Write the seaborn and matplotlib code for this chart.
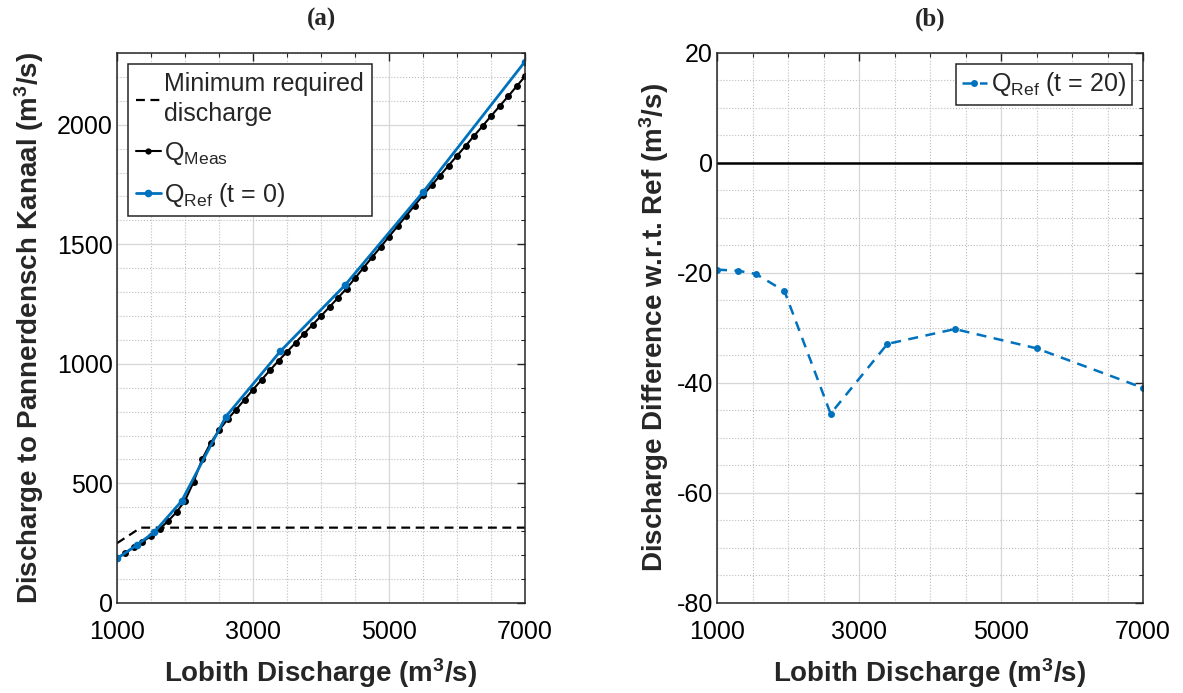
import matplotlib
matplotlib.use("Agg")
import matplotlib.pyplot as plt
from matplotlib.ticker import MultipleLocator
from matplotlib.lines import Line2D
import seaborn as sns

# Lobith discharge where the reference run was evaluated
ref_lobith = [1000, 1300, 1550, 1950, 2600, 3400, 4350, 5500, 7000]
# Discharge to Pannerdensch Kanaal, reference run (t = 0)
ref_pk_t0 = [186, 244, 297, 426, 779, 1052, 1328, 1718, 2264]
# Difference of the t = 20 run w.r.t. the reference
ref_diff_t20 = [-19.4, -19.6, -20.2, -23.3, -45.6, -32.9, -30.2, -33.7, -40.9]

# Measured discharge relation
meas_lobith = [1000, 1125, 1250, 1375, 1500, 1625, 1750, 1875, 2000, 2125,
               2250, 2375, 2500, 2625, 2750, 2875, 3000, 3125, 3250, 3375,
               3500, 3625, 3750, 3875, 4000, 4125, 4250, 4375, 4500, 4625,
               4750, 4875, 5000, 5125, 5250, 5375, 5500, 5625, 5750, 5875,
               6000, 6125, 6250, 6375, 6500, 6625, 6750, 6875, 7000]
meas_pk = [186, 210, 233, 256, 280, 310, 342, 380, 428, 505,
           600, 668, 722, 768, 808, 850, 892, 933, 973, 1013,
           1050, 1088, 1126, 1163, 1200, 1238, 1276, 1315, 1358, 1402,
           1445, 1488, 1532, 1575, 1618, 1662, 1705, 1746, 1787, 1829,
           1870, 1911, 1953, 1994, 2036, 2077, 2118, 2160, 2202]

# Minimum required discharge to the Pannerdensch Kanaal
min_lobith = [1000, 1350, 7000]
min_pk = [250, 315, 315]

x_ticks = [1000, 3000, 5000, 7000]

sns.set_style("white")
plt.rcParams["font.family"] = ["Liberation Sans", "DejaVu Sans"]
plt.rcParams["mathtext.fontset"] = "custom"
plt.rcParams["mathtext.rm"] = "Liberation Sans"
plt.rcParams["mathtext.it"] = "Liberation Sans:italic"
plt.rcParams["mathtext.bf"] = "Liberation Sans:bold"
plt.rcParams["axes.unicode_minus"] = False

BLUE = "#0072BD"
TICK_FS = 18
LABEL_FS = 20

fig = plt.figure(figsize=(11.83, 6.93), dpi=100)
ax1 = fig.add_axes([0.0989, 0.1299, 0.3449, 0.7937])
ax2 = fig.add_axes([0.6061, 0.1299, 0.3601, 0.7937])


def style_axes(ax, ymin, ymax, ymajor, yminor):
    ax.set_xlim(1000, 7000)
    ax.set_ylim(ymin, ymax)
    ax.set_xticks(x_ticks)
    ax.xaxis.set_minor_locator(MultipleLocator(500))
    ax.yaxis.set_major_locator(MultipleLocator(ymajor))
    ax.yaxis.set_minor_locator(MultipleLocator(yminor))
    ax.set_axisbelow(True)
    ax.grid(which="major", color="#d7d7d7", linestyle="-", linewidth=0.9)
    ax.grid(which="minor", color="#bdbdbd", linestyle=":", linewidth=0.8)
    ax.tick_params(which="both", direction="in", top=True, right=True,
                   colors="#262626", labelcolor="black")
    ax.tick_params(which="major", length=6, width=1, labelsize=TICK_FS)
    ax.tick_params(axis="x", which="major", pad=12)
    ax.tick_params(axis="y", which="major", pad=3)
    ax.tick_params(which="minor", length=3, width=0.8)
    for sp in ax.spines.values():
        sp.set_color("#262626")
        sp.set_linewidth(1.1)
    ax.set_xlabel(r"Lobith Discharge (m$^\mathbf{3}$/s)", fontsize=LABEL_FS,
                  fontweight="bold", labelpad=9)


def panel_title(ax, text):
    ax.set_title(text, family=["Liberation Serif", "DejaVu Serif"],
                 fontweight="bold", fontsize=18, pad=20)


# (a) discharge to the Pannerdensch Kanaal
sns.lineplot(x=min_lobith, y=min_pk, ax=ax1, color="black", linewidth=1.6,
             dashes=False, linestyle=(0, (4, 2.5)), estimator=None, sort=False)
sns.lineplot(x=meas_lobith, y=meas_pk, ax=ax1, color="black", linewidth=1.5,
             marker="o", markersize=5, markeredgewidth=0, estimator=None,
             sort=False)
sns.lineplot(x=ref_lobith, y=ref_pk_t0, ax=ax1, color=BLUE, linewidth=2.0,
             marker="o", markersize=5.5, markeredgewidth=0, estimator=None,
             sort=False)
style_axes(ax1, 0, 2300, 500, 100)
ax1.set_ylabel(r"Discharge to Pannerdensch Kanaal (m$^\mathbf{3}$/s)",
               fontsize=LABEL_FS, fontweight="bold", labelpad=8)
panel_title(ax1, "(a)")

h1 = [
    Line2D([], [], color="black", linewidth=1.6, linestyle=(0, (4, 2.5))),
    Line2D([], [], color="black", linewidth=1.5, marker="o", markersize=4.5,
           markeredgewidth=0),
    Line2D([], [], color=BLUE, linewidth=2.0, marker="o", markersize=5.5,
           markeredgewidth=0),
]
l1 = ["Minimum required\ndischarge", r"Q$_{\mathrm{Meas}}$",
      r"Q$_{\mathrm{Ref}}$ (t = 0)"]
leg1 = ax1.legend(h1, l1, loc="upper left", fontsize=TICK_FS, frameon=True,
                  fancybox=False, edgecolor="#262626", framealpha=1,
                  handlelength=1.0, handletextpad=0.15, labelspacing=0.55,
                  borderpad=0.3, borderaxespad=0.45)
leg1.get_frame().set_linewidth(1.1)
for t in leg1.get_texts():
    t.set_linespacing(1.35)

# (b) difference w.r.t. the reference run
ax2.axhline(0, color="black", linewidth=1.8, zorder=2)
sns.lineplot(x=ref_lobith, y=ref_diff_t20, ax=ax2, color=BLUE, linewidth=1.8,
             linestyle=(0, (4, 3)), marker="o", markersize=5,
             markeredgewidth=0, estimator=None, sort=False)
style_axes(ax2, -80, 20, 20, 5)
ax2.set_ylabel(r"Discharge Difference w.r.t. Ref (m$^\mathbf{3}$/s)",
               fontsize=LABEL_FS, fontweight="bold", labelpad=4)
panel_title(ax2, "(b)")

h2 = [Line2D([], [], color=BLUE, linewidth=1.8, linestyle=(0, (4, 3)),
             marker="o", markersize=5, markeredgewidth=0)]
leg2 = ax2.legend(h2, [r"Q$_{\mathrm{Ref}}$ (t = 20)"], loc="upper right",
                  fontsize=TICK_FS, frameon=True, fancybox=False,
                  edgecolor="#262626", framealpha=1, handlelength=1.0,
                  handletextpad=0.15, borderpad=0.25, borderaxespad=0.45)
leg2.get_frame().set_linewidth(1.1)

fig.savefig("out.png", dpi=100)
